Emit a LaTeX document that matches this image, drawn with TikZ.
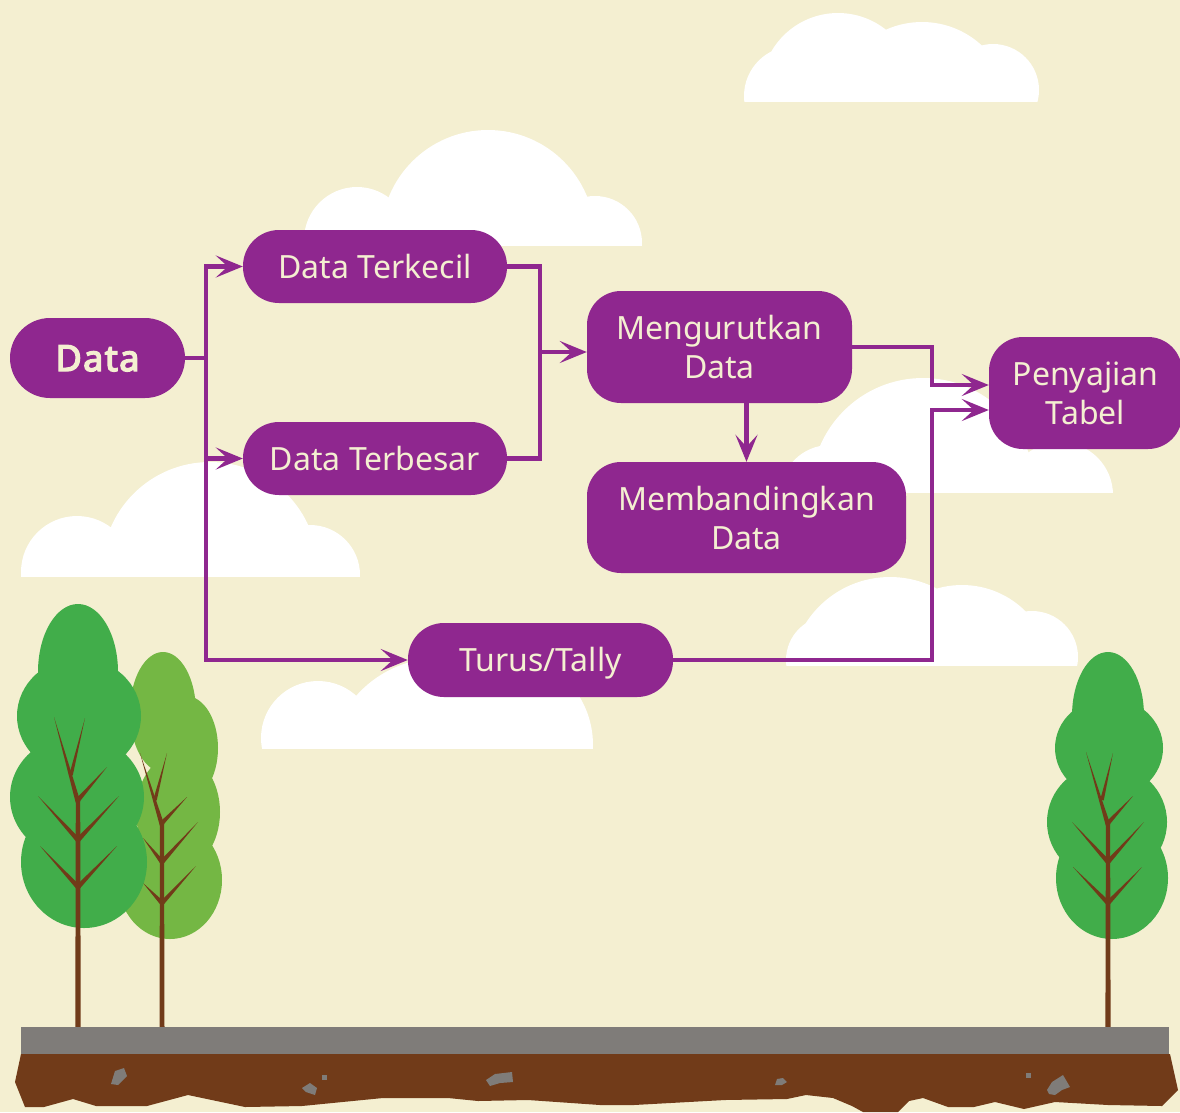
\documentclass[tikz,border=0pt]{standalone}
\usepackage{fontspec}
\setmainfont{Noto Sans}
\newfontfamily\heavysans{Noto Sans}[FakeBold=4, LetterSpace=4]
\usetikzlibrary{arrows.meta,calc}

\definecolor{sky}{HTML}{F4EFD1}
\definecolor{flowpurple}{HTML}{8F278F}
\definecolor{labeltext}{HTML}{F4EFD1}
\definecolor{leafdark}{HTML}{41AD4A}
\definecolor{leaflight}{HTML}{74B744}
\definecolor{bark}{HTML}{713B19}
\definecolor{stone}{HTML}{7F7C79}
\definecolor{soil}{HTML}{713B19}

% a cloud: white circles cut off along a flat bottom edge
\newcommand\cloud[2]{%
  \begin{scope}
    \clip (0,0) rectangle (1180,#1);
    \fill[white] #2;
  \end{scope}}

% a tapering branch from #1 to the tip #2, half base width #3
\newcommand\twig[3]{%
  \fill[bark] ($#1!#3!90:#2$) -- ($#1!#3!-90:#2$) -- #2 -- cycle;}

\begin{document}
\begin{tikzpicture}[x=1pt,y=-1pt,
  box/.style={fill=flowpurple, text=labeltext, inner sep=0pt, align=center,
    font=\fontsize{32}{39}\selectfont},
  pill/.style={box, minimum height=73pt, rounded corners=36pt,
    text height=23pt, text depth=0pt},
  card/.style={box, rounded corners=34pt},
  link/.style={draw=flowpurple, line width=4.5pt},
  arr/.style={link, -{Stealth[length=27pt,width=22pt,inset=12pt]}}]

\useasboundingbox (0,0) rectangle (1180,1112);
\fill[sky] (0,0) rectangle (1180,1112);

% clouds
\cloud{101}{(794,96) circle[radius=50pt] (838,90) circle[radius=77pt]
  (922,110) circle[radius=88pt] (993,90) circle[radius=46pt]}
\cloud{245}{(357,240) circle[radius=53pt] (488,237) circle[radius=107pt]
  (595,243) circle[radius=47pt]}
\cloud{576}{(77,572) circle[radius=56pt] (210,570) circle[radius=108pt]
  (310,575) circle[radius=50pt]}
\cloud{748}{(318,738) circle[radius=57pt] (440,770) circle[radius=112pt]
  (500,745) circle[radius=93pt]}
\cloud{492}{(830,495) circle[radius=50pt] (923,490) circle[radius=112pt]
  (1060,495) circle[radius=53pt]}
\cloud{665}{(830,660) circle[radius=44pt] (890,677) circle[radius=100pt]
  (962,675) circle[radius=90pt] (1032,657) circle[radius=46pt]}

% light tree at the back
\fill[leaflight] (163,712) ellipse[x radius=33pt, y radius=60pt]
  (186,748) ellipse[x radius=32pt, y radius=52pt]
  (178,812) ellipse[x radius=42pt, y radius=58pt]
  (170,880) ellipse[x radius=52pt, y radius=59pt];
\fill[bark] (159.5,1027) -- (164.5,1027) -- (164,823) -- (160,823) -- cycle;
\twig{(162,825)}{(140,753)}{2.3pt}
\twig{(155,800)}{(167,753)}{1.8pt}
\twig{(162,823)}{(187,797)}{2.2pt}
\twig{(162,862)}{(198,822)}{2.3pt}
\twig{(162,862)}{(143,838)}{2.3pt}
\twig{(162,903)}{(196,866)}{2.3pt}
\twig{(162,903)}{(143,883)}{2.3pt}

% dark tree on the left
\fill[leafdark] (78,672) ellipse[x radius=40pt, y radius=68pt]
  (79,716) ellipse[x radius=62pt, y radius=58pt]
  (77,797) ellipse[x radius=67pt, y radius=62pt]
  (84,862) ellipse[x radius=63pt, y radius=66pt];
\fill[bark] (75.3,1027) -- (80.7,1027) -- (80.2,800) -- (75.8,800) -- cycle;
\twig{(78,802)}{(54,717)}{2.4pt}
\twig{(71,775)}{(85,718)}{1.8pt}
\twig{(78,800)}{(107,767)}{2.3pt}
\twig{(78,840)}{(38,796)}{2.4pt}
\twig{(78,840)}{(119,796)}{2.4pt}
\twig{(78,887)}{(40,846)}{2.4pt}
\twig{(78,887)}{(117,846)}{2.4pt}

% tree on the right
\fill[leafdark] (1108,716) ellipse[x radius=36pt, y radius=64pt]
  (1109,748) ellipse[x radius=54pt, y radius=50pt]
  (1107,822) ellipse[x radius=60pt, y radius=58pt]
  (1112,878) ellipse[x radius=56pt, y radius=61pt];
\fill[bark] (1105.4,1027) -- (1110.6,1027) -- (1110.1,823) -- (1105.9,823) -- cycle;
\twig{(1108,825)}{(1086,752)}{2.3pt}
\twig{(1102,800)}{(1113,753)}{1.8pt}
\twig{(1108,823)}{(1133,796)}{2.2pt}
\twig{(1108,862)}{(1072,822)}{2.3pt}
\twig{(1108,862)}{(1144,822)}{2.3pt}
\twig{(1108,903)}{(1073,867)}{2.3pt}
\twig{(1108,903)}{(1142,867)}{2.3pt}

% ground: paved strip over soil
\fill[stone] (21,1027) rectangle (1169,1054);
\fill[soil] (21,1054) -- (15,1082) -- (25,1107) -- (44,1107) -- (73,1099)
  -- (96,1106) -- (147,1106) -- (188,1095) -- (245,1107) -- (302,1106)
  -- (383,1098) -- (448,1098) -- (478,1101) -- (528,1100) -- (600,1105)
  -- (634,1105) -- (725,1100) -- (787,1099) -- (806,1095) -- (833,1098)
  -- (852,1106) -- (863,1112) -- (898,1112) -- (909,1101) -- (923,1098)
  -- (948,1107) -- (974,1107) -- (995,1102) -- (1024,1109) -- (1055,1102)
  -- (1108,1105) -- (1162,1106) -- (1178,1090) -- (1170,1054) -- cycle;
\fill[stone] (111,1084) -- (115,1071) -- (124,1068) -- (127,1076) -- (118,1085) -- cycle;
\fill[stone] (302,1088) -- (310,1083) -- (317,1088) -- (315,1095) -- (306,1092) -- cycle;
\fill[stone] (322,1075) rectangle (327,1080);
\fill[stone] (486,1080) -- (495,1074) -- (512,1072) -- (513,1082) -- (500,1083) -- (490,1086) -- cycle;
\fill[stone] (775,1085) -- (777,1079) -- (783,1078) -- (787,1082) -- (782,1085) -- cycle;
\fill[stone] (1026,1073) rectangle (1031,1078);
\fill[stone] (1047,1090) -- (1052,1082) -- (1063,1075) -- (1070,1087) -- (1062,1090)
  -- (1055,1095) -- (1049,1094) -- cycle;

% flow chart
\node[pill, minimum width=175pt, minimum height=80pt, rounded corners=40pt,
  text height=26pt, font=\heavysans\fontsize{36}{40}\selectfont]
  (data) at (97.5,358) {Data};
\node[pill, minimum width=264pt] (terkecil) at (375,266.5) {Data Terkecil};
\node[pill, minimum width=264pt] (terbesar) at (375,458.5) {Data Terbesar};
\node[pill, minimum width=265pt, minimum height=74pt] (turus) at (540.5,660) {Turus/Tally};
\node[card, minimum width=265pt, minimum height=112pt] (urut) at (719.5,347) {Mengurutkan\\Data};
\node[card, minimum width=319pt, minimum height=111pt] (banding) at (746.5,517.5) {Membandingkan\\Data};
\node[card, minimum width=193pt, minimum height=112pt] (saji) at (1085.5,393) {Penyajian\\Tabel};

\coordinate (split) at (206,358);
\coordinate (merge) at (540,352);
\coordinate (colR) at (932,0);
\coordinate (sajiA) at ([yshift=8pt]saji.west);
\coordinate (sajiB) at ([yshift=-17pt]saji.west);

\draw[link] (data.east) -- (split);
\draw[arr] (split) |- (terkecil.west);
\draw[arr] (split) |- (terbesar.west);
\draw[arr] (split) |- (turus.west);
\draw[link] (terkecil.east) -| (merge);
\draw[link] (terbesar.east) -| (merge);
\draw[arr] (merge) -- (merge -| urut.west);
\draw[arr] (banding.north |- urut.south) -- (banding.north);
\draw[arr] (urut.east) -| (colR |- sajiA) -- (sajiA);
\draw[arr] (turus.east) -| (colR |- sajiB) -- (sajiB);
\end{tikzpicture}
\end{document}
